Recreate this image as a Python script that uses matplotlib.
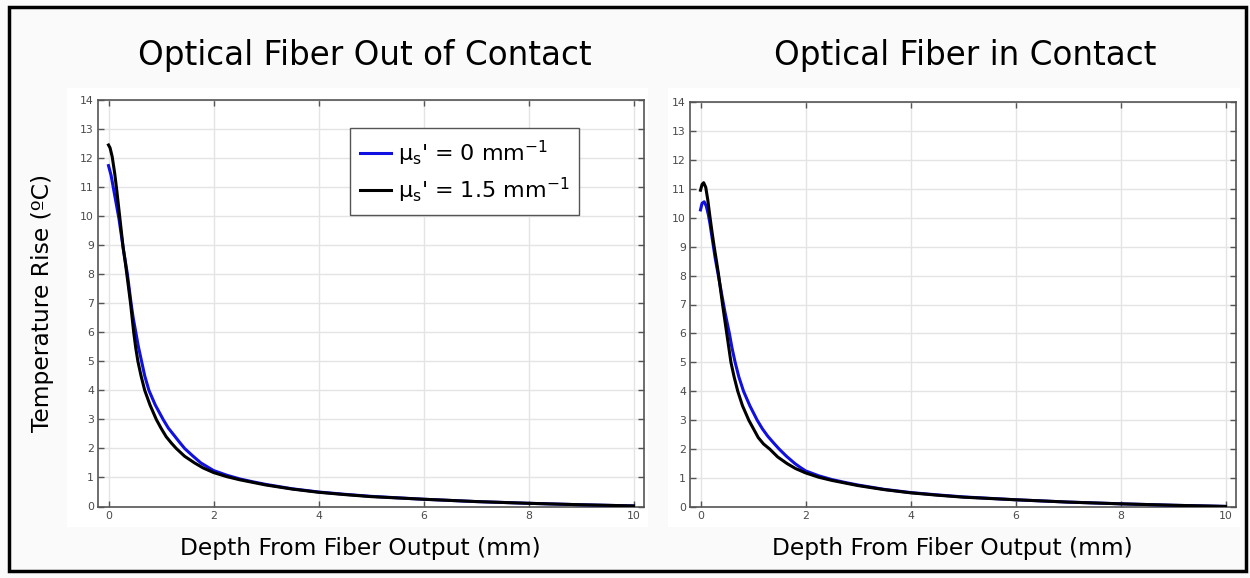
import matplotlib
matplotlib.use("Agg")
import matplotlib.pyplot as plt
from matplotlib.patches import Rectangle

# depth (mm) and temperature rise (C)
x_out_blue = [0, 0.05, 0.1, 0.15, 0.2, 0.24, 0.28, 0.32, 0.36, 0.43, 0.47, 0.52, 0.57, 0.63,
              0.69, 0.77, 0.89, 1.04, 1.14, 1.25, 1.35, 1.45, 1.6, 1.76, 1.88, 2.0, 2.25,
              2.5, 2.75, 3.0, 3.5, 4.0, 4.5, 5.0, 6.0, 7.0, 8.0, 9.0, 10.0]
y_out_blue = [11.74, 11.4, 10.9, 10.4, 9.9, 9.4, 8.9, 8.45, 8.0, 7.0, 6.5, 6.0, 5.5, 5.0,
              4.5, 4.0, 3.5, 3.0, 2.7, 2.45, 2.22, 2.0, 1.75, 1.5, 1.37, 1.24, 1.08,
              0.95, 0.85, 0.76, 0.61, 0.5, 0.42, 0.35, 0.25, 0.17, 0.11, 0.06, 0.02]
x_out_black = [0, 0.03, 0.07, 0.12, 0.16, 0.2, 0.24, 0.28, 0.32, 0.36, 0.42, 0.48, 0.52,
               0.56, 0.62, 0.69, 0.79, 0.91, 1.0, 1.1, 1.2, 1.29, 1.45, 1.64, 1.8, 2.0,
               2.25, 2.5, 2.75, 3.0, 3.5, 4.0, 4.5, 5.0, 6.0, 7.0, 8.0, 9.0, 10.0]
y_out_black = [12.45, 12.35, 12.05, 11.45, 10.85, 10.2, 9.55, 8.9, 8.4, 7.85, 7.0, 6.0, 5.45,
               5.0, 4.5, 4.0, 3.5, 3.0, 2.7, 2.4, 2.18, 2.0, 1.73, 1.5, 1.33, 1.17,
               1.03, 0.92, 0.83, 0.74, 0.6, 0.49, 0.41, 0.34, 0.25, 0.17, 0.11, 0.06, 0.02]

x_in_blue = [0, 0.03, 0.07, 0.11, 0.15, 0.18, 0.23, 0.28, 0.34, 0.4, 0.47, 0.55, 0.6, 0.66,
             0.73, 0.82, 0.94, 1.08, 1.18, 1.28, 1.39, 1.5, 1.64, 1.8, 1.9, 2.0, 2.25,
             2.5, 2.75, 3.0, 3.5, 4.0, 4.5, 5.0, 6.0, 7.0, 8.0, 9.0, 10.0]
y_in_blue = [10.27, 10.5, 10.55, 10.4, 10.1, 9.8, 9.2, 8.6, 8.0, 7.39, 6.7, 6.0, 5.5, 5.0,
             4.5, 4.0, 3.5, 3.0, 2.7, 2.45, 2.22, 2.0, 1.75, 1.5, 1.37, 1.25, 1.08,
             0.95, 0.85, 0.76, 0.61, 0.5, 0.42, 0.35, 0.25, 0.17, 0.11, 0.06, 0.02]
x_in_black = [0, 0.03, 0.06, 0.1, 0.14, 0.18, 0.22, 0.26, 0.3, 0.34, 0.42, 0.5, 0.54,
              0.58, 0.64, 0.71, 0.8, 0.92, 1.01, 1.1, 1.2, 1.32, 1.47, 1.65, 1.81, 2.0,
              2.25, 2.5, 2.75, 3.0, 3.5, 4.0, 4.5, 5.0, 6.0, 7.0, 8.0, 9.0, 10.0]
y_in_black = [10.95, 11.15, 11.21, 11.05, 10.6, 10.03, 9.5, 9.0, 8.55, 8.08, 7.0, 6.0, 5.5,
              5.0, 4.5, 4.0, 3.5, 3.0, 2.7, 2.4, 2.18, 2.0, 1.73, 1.5, 1.33, 1.18,
              1.03, 0.92, 0.83, 0.74, 0.6, 0.49, 0.41, 0.34, 0.25, 0.17, 0.11, 0.06, 0.02]

titles = ["Optical Fiber Out of Contact", "Optical Fiber in Contact"]
labels = ["μ$_\\mathregular{s}$' = 0 mm$^\\mathregular{-1}$",
          "μ$_\\mathregular{s}$' = 1.5 mm$^\\mathregular{-1}$"]
xlabel = "Depth From Fiber Output (mm)"
ylabel = "Temperature Rise (ºC)"

W, H = 1250, 578
fig = plt.figure(figsize=(12.5, 5.78), dpi=100)
fig.patch.set_facecolor("#fafafa")

# white panels behind each plot and outer frame
for (x0, x1) in [(67, 648), (668, 1240)]:
    fig.patches.append(Rectangle((x0 / W, 1 - 527 / H), (x1 - x0) / W, (527 - 88) / H,
                                 transform=fig.transFigure, facecolor="white",
                                 edgecolor="none", zorder=-5))
fig.patches.append(Rectangle((8.5 / W, 1 - 571 / H), (1246 - 8.5) / W, (571 - 7) / H,
                             transform=fig.transFigure, facecolor="none",
                             edgecolor="black", linewidth=2.5, zorder=5))

ax1 = fig.add_axes([98 / W, 1 - 506.5 / H, 546 / W, 406.5 / H])
ax2 = fig.add_axes([690 / W, 1 - 507 / H, 546 / W, 405 / H])

data = [(ax1, x_out_blue, y_out_blue, x_out_black, y_out_black),
        (ax2, x_in_blue, y_in_blue, x_in_black, y_in_black)]

for ax, xb, yb, xk, yk in data:
    ax.set_zorder(1)
    ax.patch.set_alpha(0)
    ax.plot(xb, yb, color="#1010e0", lw=2.2, label=labels[0], zorder=3,
            solid_joinstyle="round")
    ax.plot(xk, yk, color="black", lw=2.2, label=labels[1], zorder=4,
            solid_joinstyle="round")
    ax.set_xlim(-0.2, 10.2)
    ax.set_ylim(0, 14)
    ax.set_xticks(range(0, 11, 2))
    ax.set_yticks(range(0, 15))
    ax.grid(True, color="#e4e4e4", lw=1)
    ax.set_axisbelow(True)
    ax.tick_params(direction="in", length=4, width=1, color="#555555", labelcolor="#4a4a4a",
                   labelsize=7.8, top=True, right=True, pad=3)
    for s in ax.spines.values():
        s.set_color("#555555")
        s.set_linewidth(1.2)
    ax.set_xlabel(xlabel, fontsize=16.8)
    ax.xaxis.set_label_coords(0.48, -0.075)

ax1.set_ylabel(ylabel, fontsize=16.8)
ax1.yaxis.set_label_coords(-0.08, 0.5)

leg = ax1.legend(loc="upper left", bbox_to_anchor=(0.4615, 0.93), borderaxespad=0,
                 fontsize=16, fancybox=False, framealpha=1, edgecolor="#555555",
                 handlelength=1.4, handletextpad=0.3, borderpad=0.45, labelspacing=0.35)
leg.get_frame().set_linewidth(1)

fig.text(365 / W, 1 - 55 / H, titles[0], fontsize=23.5, ha="center", va="center")
fig.text(965 / W, 1 - 55 / H, titles[1], fontsize=23.5, ha="center", va="center")

fig.savefig("out.png", dpi=100, facecolor=fig.get_facecolor())
